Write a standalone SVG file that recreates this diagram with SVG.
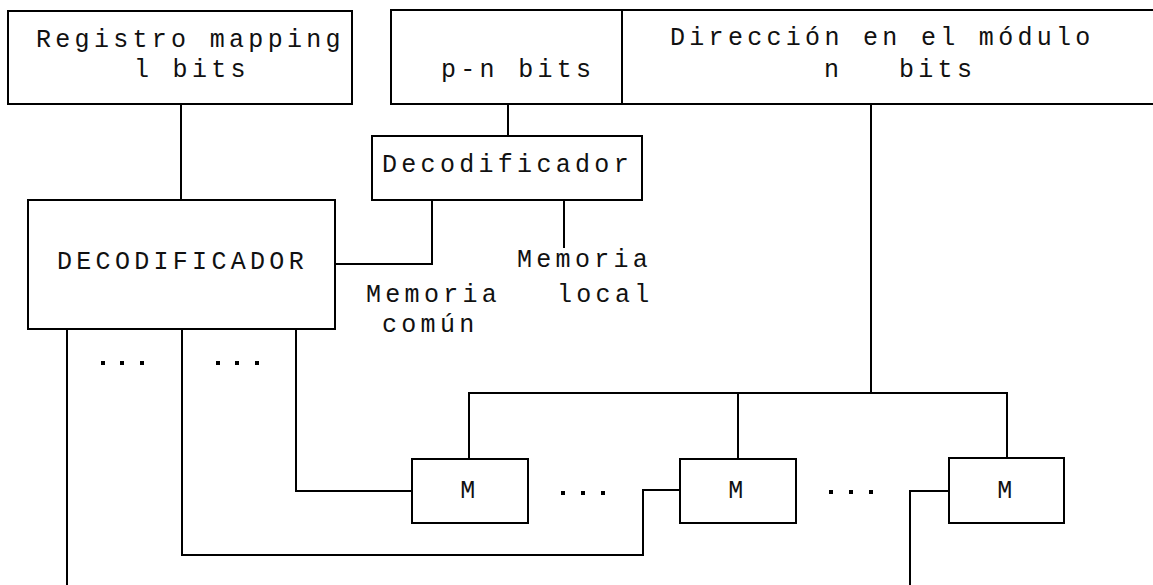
<svg xmlns="http://www.w3.org/2000/svg" width="1153" height="585" viewBox="0 0 1153 585">
  <style>
    .box { fill: #fff; stroke: #000; stroke-width: 2; }
    .wire { fill: none; stroke: #000; stroke-width: 2; }
    .t { font-family: "Liberation Mono", "DejaVu Sans Mono", monospace; font-size: 25px; letter-spacing: 4.3px; fill: #111; }
    .dot { fill: #000; }
  </style>
  <rect width="1153" height="585" fill="#fff"/>

  <g id="connectors">
    <polyline class="wire" points="181,104 181,200"/>
    <polyline class="wire" points="508,104 508,136"/>
    <polyline class="wire" points="871,104 871,393"/>
    <polyline class="wire" points="469,459 469,393 1007,393 1007,459"/>
    <polyline class="wire" points="738,393 738,459"/>
    <polyline class="wire" points="335,264 432,264 432,200"/>
    <polyline class="wire" points="564,200 564,248"/>
    <polyline class="wire" points="67,329 67,585"/>
    <polyline class="wire" points="182,329 182,555 643,555 643,490 680,490"/>
    <polyline class="wire" points="296,329 296,491 412,491"/>
    <polyline class="wire" points="949,491 910,491 910,585"/>
  </g>

  <g id="registro">
    <rect class="box" x="8" y="11" width="344" height="93"/>
    <text class="t" x="36" y="47">Registro mapping</text>
    <text class="t" x="134" y="77">l bits</text>
  </g>

  <g id="direccion">
    <rect class="box" x="391" y="10" width="775" height="94"/>
    <line class="wire" x1="622" y1="10" x2="622" y2="104"/>
    <text class="t" x="441" y="77">p-n bits</text>
    <text class="t" x="670" y="45">Dirección en el módulo</text>
    <text class="t" x="824" y="77">n</text>
    <text class="t" x="899" y="77">bits</text>
  </g>

  <g id="decodificador-local">
    <rect class="box" x="372" y="136" width="270" height="64"/>
    <text class="t" x="382" y="172">Decodificador</text>
  </g>

  <g id="decodificador-main">
    <rect class="box" x="28" y="200" width="307" height="129"/>
    <text class="t" x="57" y="269">DECODIFICADOR</text>
  </g>

  <g id="labels">
    <text class="t" x="517" y="267">Memoria</text>
    <text class="t" x="557" y="302">local</text>
    <text class="t" x="366" y="302">Memoria</text>
    <text class="t" x="382" y="332">común</text>
  </g>

  <g id="m1">
    <rect class="box" x="412" y="459" width="116" height="64"/>
    <text class="t" x="470" y="498" text-anchor="middle" letter-spacing="0">M</text>
  </g>
  <g id="m2">
    <rect class="box" x="680" y="459" width="116" height="64"/>
    <text class="t" x="738" y="498" text-anchor="middle" letter-spacing="0">M</text>
  </g>
  <g id="m3">
    <rect class="box" x="949" y="458" width="115" height="65"/>
    <text class="t" x="1007" y="498" text-anchor="middle" letter-spacing="0">M</text>
  </g>

  <g id="ellipses">
    <rect class="dot" x="101" y="361" width="4" height="4"/>
    <rect class="dot" x="120" y="361" width="4" height="4"/>
    <rect class="dot" x="140" y="361" width="4" height="4"/>
    <rect class="dot" x="216" y="361" width="4" height="4"/>
    <rect class="dot" x="235" y="361" width="4" height="4"/>
    <rect class="dot" x="255" y="361" width="4" height="4"/>
    <rect class="dot" x="561" y="491" width="4" height="4"/>
    <rect class="dot" x="581" y="491" width="4" height="4"/>
    <rect class="dot" x="601" y="491" width="4" height="4"/>
    <rect class="dot" x="829" y="490" width="4" height="4"/>
    <rect class="dot" x="849" y="490" width="4" height="4"/>
    <rect class="dot" x="869" y="490" width="4" height="4"/>
  </g>
</svg>
